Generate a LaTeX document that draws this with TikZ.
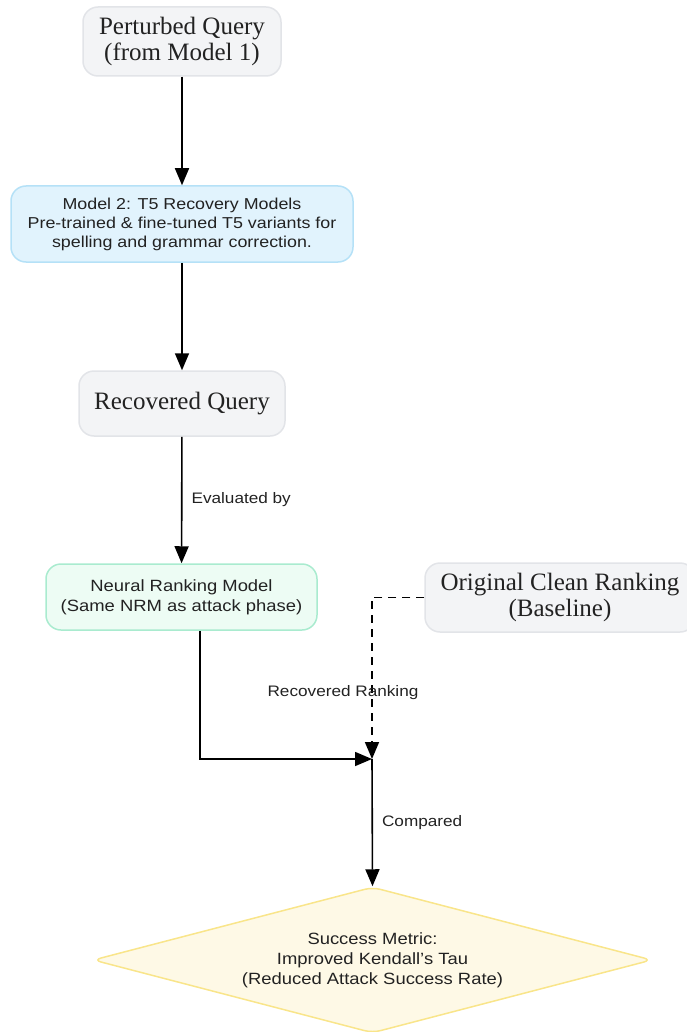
\documentclass[tikz,border=0pt]{standalone}
\usepackage{fontspec}
\setmainfont{Liberation Serif}
\setsansfont{Liberation Sans}[FakeStretch=1.13]
\usetikzlibrary{arrows.meta,shapes.geometric}
\definecolor{grayfill}{HTML}{F3F4F6}
\definecolor{grayline}{HTML}{E2E4E8}
\definecolor{bluefill}{HTML}{E1F3FD}
\definecolor{blueline}{HTML}{B5E1F7}
\definecolor{greenfill}{HTML}{EDFCF4}
\definecolor{greenline}{HTML}{A9EBCF}
\definecolor{yellowfill}{HTML}{FEF9E6}
\definecolor{yellowline}{HTML}{F9E58A}
\definecolor{ink}{HTML}{222222}
\tikzset{
  box/.style={rounded corners=15pt, line width=1.5pt, align=center, inner sep=0pt, text=ink},
  plainbox/.style={box, fill=grayfill, draw=grayline, font=\fontsize{25}{25.5}\selectfont},
  modelbox/.style={box, fill=bluefill, draw=blueline, font=\sffamily\fontsize{15.8}{19}\selectfont},
  rankbox/.style={box, fill=greenfill, draw=greenline, font=\sffamily\fontsize{16.3}{20}\selectfont},
  metric/.style={diamond, aspect=3.8, rounded corners=8pt, fill=yellowfill, draw=yellowline, line width=1.5pt,
    align=center, inner sep=0pt, text=ink, font=\sffamily\fontsize{16.3}{20}\selectfont},
  flow/.style={line width=1.6pt, draw=black, -{Triangle[length=17pt,width=14pt]}},
  dashflow/.style={flow, dash pattern=on 8pt off 6pt},
  edgelabel/.style={font=\sffamily\fontsize{15.2}{17}\selectfont, text=ink, inner sep=0pt}
}
\begin{document}
\begin{tikzpicture}[x=1pt,y=-1pt]
\useasboundingbox (0,0) rectangle (686,1032);
\node[plainbox, minimum width=198pt, minimum height=69pt] (perturbed) at (182,41.5) {Perturbed Query\\(from Model 1)};
\node[modelbox, minimum width=342pt, minimum height=76pt] (recovery) at (182,224) {Model 2: T5 Recovery Models\\Pre-trained \& fine-tuned T5 variants for\\spelling and grammar correction.};
\node[plainbox, minimum width=206pt, minimum height=65pt] (recovered) at (182,403.5) {Recovered Query};
\node[rankbox, minimum width=271pt, minimum height=66pt] (nrm) at (181.5,597) {Neural Ranking Model\\(Same NRM as attack phase)};
\node[plainbox, minimum width=270pt, minimum height=69pt] (clean) at (560,597.5) {Original Clean Ranking\\(Baseline)};
\node[metric, minimum width=559pt, minimum height=146pt] (success) at (372.5,960) {Success Metric:\\Improved Kendall's Tau\\(Reduced Attack Success Rate)};
\coordinate (join) at (372,759);

\draw[flow] (perturbed) -- (recovery);
\draw[flow] (recovery) -- (recovered);
\draw[flow] (recovered) -- node[edgelabel, anchor=west, xshift=9pt] {Evaluated by} (nrm);
\draw[flow] (nrm.south -| 200,0) |- (join);
\draw[dashflow] (clean.west) -| (join);
\draw[flow] (join) -- node[edgelabel, anchor=west, xshift=9pt] {Compared} (success.north);
\node[edgelabel] (rrlabel) at (343,693) {Recovered Ranking};
\end{tikzpicture}
\end{document}
